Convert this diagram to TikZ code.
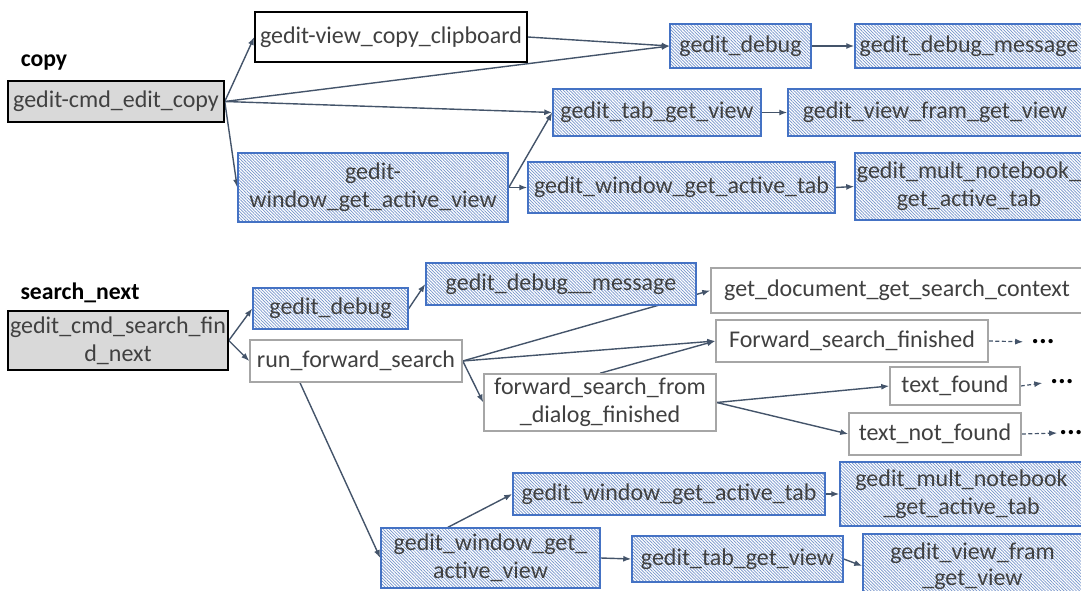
\documentclass[tikz,border=0pt]{standalone}
\usepackage{fontspec}
\setmainfont{Carlito}
\usetikzlibrary{arrows.meta,patterns.meta,backgrounds}

\definecolor{txt}{HTML}{404040}
\definecolor{edgec}{HTML}{44546A}
\definecolor{bluebd}{HTML}{4472C4}
\definecolor{hatchc}{HTML}{7493CB}
\definecolor{greybd}{HTML}{A6A6A6}
\definecolor{greyfill}{HTML}{D9D9D9}

\tikzset{
  base/.style={rectangle, inner sep=0pt, line width=1.5pt, text=txt, align=center,
    font=\fontsize{24}{28}\selectfont},
  rootbox/.style={base, draw=black, fill=greyfill},
  plainbox/.style={base, draw=black, fill=white},
  openbox/.style={base, draw=greybd, fill=white},
  hatchbox/.style={base, draw=bluebd, preaction={fill=white},
    pattern={Lines[angle=-45,distance=2.2pt,line width=0.7pt]}, pattern color=hatchc},
  caption/.style={inner sep=0pt, text=black, font=\bfseries\fontsize{23.7}{28}\selectfont},
  more/.style={inner sep=0pt, text=black, font=\bfseries\fontsize{29}{30}\selectfont},
  call/.style={draw=edgec, line width=1.4pt, -{Latex[length=8pt,width=6pt]}},
  later/.style={call, line width=1.2pt, dash pattern=on 4pt off 2.5pt},
}

\begin{document}
\begin{tikzpicture}[x=1pt,y=-1pt]
\useasboundingbox (0,0) rectangle (1081,591);
\clip (0,0) rectangle (1081,591);

% ---- copy ----
\node[caption] (lcopy) at (44,63) {copy};
\node[rootbox, minimum width=216, minimum height=41] (ecopy) at (116,101.5) {gedit-cmd\_edit\_copy};
\node[plainbox, minimum width=272, minimum height=50] (clip) at (391,37) {gedit-view\_copy\_clipboard};
\node[hatchbox, minimum width=141, minimum height=44] (dbg1) at (740.5,46) {gedit\_debug};
\node[hatchbox, minimum width=228, minimum height=44] (dmsg1) at (969,46) {gedit\_debug\_message};
\node[hatchbox, minimum width=208, minimum height=47] (tgv1) at (657,112.5) {gedit\_tab\_get\_view};
\node[hatchbox, minimum width=294, minimum height=47] (vfgv1) at (935,112.5) {gedit\_view\_fram\_get\_view};
\node[hatchbox, minimum width=270, minimum height=69] (wgav1) at (373,187.5) {gedit-\\window\_get\_active\_view};
\node[hatchbox, minimum width=307, minimum height=51] (wgat1) at (681.5,187.5) {gedit\_window\_get\_active\_tab};
\node[hatchbox, minimum width=228, minimum height=67] (mnb1) at (969,186.5) {gedit\_mult\_notebook\_\\get\_active\_tab};

% ---- search_next ----
\node[caption] (lsearch) at (80,293) {search\_next};
\node[rootbox, minimum width=220, minimum height=59] (esearch) at (118,340.5) {gedit\_cmd\_search\_fin\\d\_next};
\node[hatchbox, minimum width=155, minimum height=41] (dbg2) at (330.5,308.5) {gedit\_debug};
\node[openbox, minimum width=212, minimum height=42] (rfs) at (356,361) {run\_forward\_search};
\node[hatchbox, minimum width=270, minimum height=42] (dmsg2) at (561,284) {gedit\_debug\_\_message};
\node[openbox, minimum width=372, minimum height=45] (gdsc) at (897,290.5) {get\_document\_get\_search\_context};
\node[openbox, minimum width=272, minimum height=42] (ffin) at (852,341) {Forward\_search\_finished};
\node[openbox, minimum width=232, minimum height=57] (fsd) at (600,402.5) {forward\_search\_from\\\_dialog\_finished};
\node[openbox, minimum width=130, minimum height=38] (tf) at (955,386) {text\_found};
\node[openbox, minimum width=172, minimum height=42] (tnf) at (935,434) {text\_not\_found};
\node[more] (more1) at (1043,342) {...};
\node[more] (more2) at (1062,382) {...};
\node[more] (more3) at (1071,433) {...};
\node[hatchbox, minimum width=312, minimum height=42] (wgat2) at (669,494) {gedit\_window\_get\_active\_tab};
\node[hatchbox, minimum width=243, minimum height=64] (mnb2) at (961.5,494) {gedit\_mult\_notebook\\\_get\_active\_tab};
\node[hatchbox, minimum width=219, minimum height=60] (wgav2) at (490.5,558) {gedit\_window\_get\_\\active\_view};
\node[hatchbox, minimum width=211, minimum height=46] (tgv2) at (737.5,559) {gedit\_tab\_get\_view};
\node[hatchbox, minimum width=219, minimum height=64, font=\fontsize{24}{26}\selectfont] (vfgv2) at (972.5,566) {gedit\_view\_fram\\\_get\_view};

% ---- calls, drawn underneath the boxes ----
\begin{scope}[on background layer]
  \draw[call] (ecopy.east) -- (clip.west);
  \draw[call] (ecopy.east) -- (dbg1.west);
  \draw[call] (clip.east) -- (dbg1.west);
  \draw[call] (ecopy.east) -- (tgv1.west);
  \draw[call] (ecopy.east) -- (wgav1.west);
  \draw[call] (wgav1.east) -- (tgv1.west);
  \draw[call] (wgav1.east) -- (wgat1.west);
  \draw[call] (tgv1.east) -- (vfgv1.west);
  \draw[call] (dbg1.east) -- (dmsg1.west);
  \draw[call] (wgat1.east) -- (mnb1.west);

  \draw[call] (esearch.east) -- (dbg2.west);
  \draw[call] (esearch.east) -- (rfs.west);
  \draw[call] (dbg2.east) -- (dmsg2.west);
  \draw[call] (rfs.east) -- (gdsc.west);
  \draw[call] (rfs.east) -- (ffin.west);
  \draw[call] (fsd.north) -- (ffin.west);
  \draw[call] (rfs.east) -- (fsd.west);
  \draw[call] (fsd.east) -- (tf.west);
  \draw[call] (fsd.east) -- (tnf.west);
  \draw[later, shorten >=8pt] (ffin.east) -- (more1.west);
  \draw[later, shorten >=8pt] (tf.east) -- (more2.west);
  \draw[later, shorten >=2pt] (tnf.east) -- (more3.west);
  \draw[call] ([xshift=-56pt]rfs.south) -- (wgav2.west);
  \draw[call] ([xshift=-42.5pt]wgav2.north) -- (wgat2.west);
  \draw[call] (wgav2.east) -- (tgv2.west);
  \draw[call] (wgat2.east) -- (mnb2.west);
  \draw[call] (tgv2.east) -- (vfgv2.west);
\end{scope}
\end{tikzpicture}
\end{document}
